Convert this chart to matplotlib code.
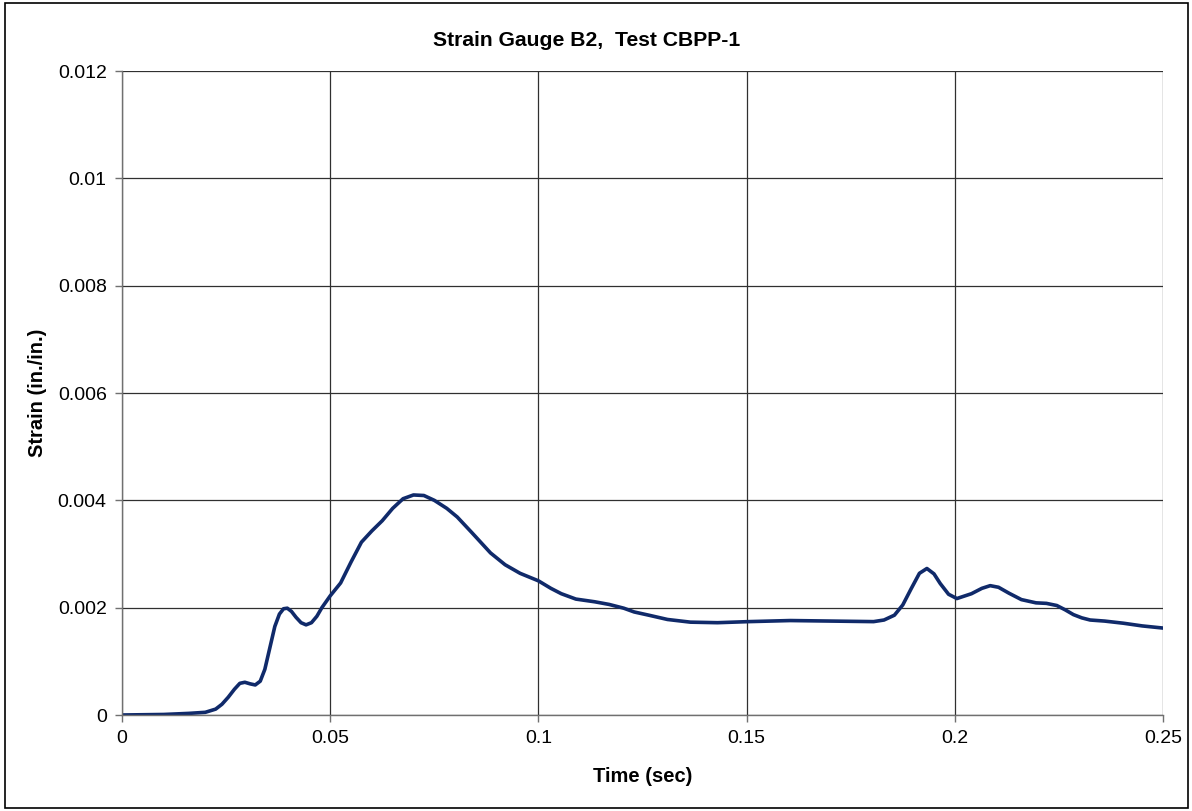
import matplotlib
matplotlib.use("Agg")
import matplotlib.pyplot as plt
from matplotlib.patches import Rectangle

plt.rcParams['font.family'] = ['Liberation Sans', 'DejaVu Sans']

time_sec = [0.000, 0.010, 0.016, 0.020, 0.0225, 0.024, 0.0255, 0.027, 0.0283, 0.0295,
            0.0308, 0.032, 0.0332, 0.0343, 0.0355, 0.0367, 0.0378, 0.0388, 0.0397, 0.0407,
            0.0418, 0.043, 0.0442, 0.0455, 0.0468, 0.048, 0.050, 0.0525, 0.055, 0.0575,
            0.060, 0.0625, 0.065, 0.0675, 0.070, 0.0725, 0.075, 0.078, 0.0805, 0.084,
            0.0885, 0.092, 0.0956, 0.100, 0.103, 0.1055, 0.109, 0.1135, 0.117, 0.1205,
            0.123, 0.1265, 0.131, 0.1365, 0.143, 0.1505, 0.1605, 0.1705, 0.1805, 0.183,
            0.1855, 0.1875, 0.1895, 0.1915, 0.1933, 0.195, 0.1965, 0.1985, 0.2005, 0.204,
            0.2065, 0.2085, 0.2105, 0.213, 0.216, 0.2195, 0.222, 0.2245, 0.2265, 0.2285,
            0.2305, 0.2325, 0.236, 0.2405, 0.245, 0.250]
strain = [0.00000, 0.00001, 0.00003, 0.00005, 0.00011, 0.00020, 0.00033, 0.00048, 0.00059, 0.00061,
          0.00058, 0.00056, 0.00063, 0.00085, 0.00125, 0.00165, 0.00188, 0.00198, 0.00199, 0.00193,
          0.00182, 0.00172, 0.00168, 0.00172, 0.00184, 0.00200, 0.00222, 0.00246, 0.00285, 0.00322,
          0.00343, 0.00362, 0.00385, 0.00403, 0.00410, 0.00409, 0.00400, 0.00385, 0.00369, 0.00340,
          0.00302, 0.00280, 0.00264, 0.00250, 0.00236, 0.00226, 0.00216, 0.00211, 0.00206, 0.00199,
          0.00192, 0.00186, 0.00178, 0.00173, 0.00172, 0.00174, 0.00176, 0.00175, 0.00174, 0.00177,
          0.00186, 0.00205, 0.00235, 0.00264, 0.00273, 0.00263, 0.00245, 0.00225, 0.00217, 0.00226,
          0.00236, 0.00241, 0.00238, 0.00227, 0.00215, 0.00209, 0.00208, 0.00204, 0.00196, 0.00187,
          0.00181, 0.00177, 0.00175, 0.00171, 0.00166, 0.00162]

x_ticks = [0, 0.05, 0.1, 0.15, 0.2, 0.25]
x_labels = ['0', '0.05', '0.1', '0.15', '0.2', '0.25']
y_ticks = [0, 0.002, 0.004, 0.006, 0.008, 0.01, 0.012]
y_labels = ['0', '0.002', '0.004', '0.006', '0.008', '0.01', '0.012']

fig = plt.figure(figsize=(11.92, 8.11), dpi=100)
ax = fig.add_axes([122/1192, 96/811, 1041/1192, 644/811])

ax.plot(time_sec, strain, color='#102a6a', lw=2.6, solid_capstyle='round',
        solid_joinstyle='round')

ax.set_xlim(0, 0.25)
ax.set_ylim(0, 0.012)
ax.set_xticks(x_ticks)
ax.set_xticklabels(x_labels)
ax.set_yticks(y_ticks)
ax.set_yticklabels(y_labels)
ax.grid(True, color='#303030', lw=0.9)
ax.set_axisbelow(True)
for s in ['top', 'right']:
    ax.spines[s].set_visible(False)
for s in ['left', 'bottom']:
    ax.spines[s].set_color('#707070')
    ax.spines[s].set_linewidth(1.0)
ax.tick_params(axis='both', direction='out', length=5, width=1, color='#707070',
               labelsize=14, pad=6)

ax.set_xlabel('Time (sec)', fontsize=14.5, fontweight='bold', labelpad=14)
ax.set_ylabel('Strain (in./in.)', fontsize=14.5, fontweight='bold', labelpad=8)
fig.text(587/1192, 1 - 41/811, 'Strain Gauge B2,  Test CBPP-1', fontsize=15.2,
         fontweight='bold', ha='center', va='center')

fig.patches.append(Rectangle((5/1192, 3/811), 1183/1192, 805/811, transform=fig.transFigure,
                             fill=False, edgecolor='black', lw=1.2))

fig.savefig('out.png', dpi=100)
